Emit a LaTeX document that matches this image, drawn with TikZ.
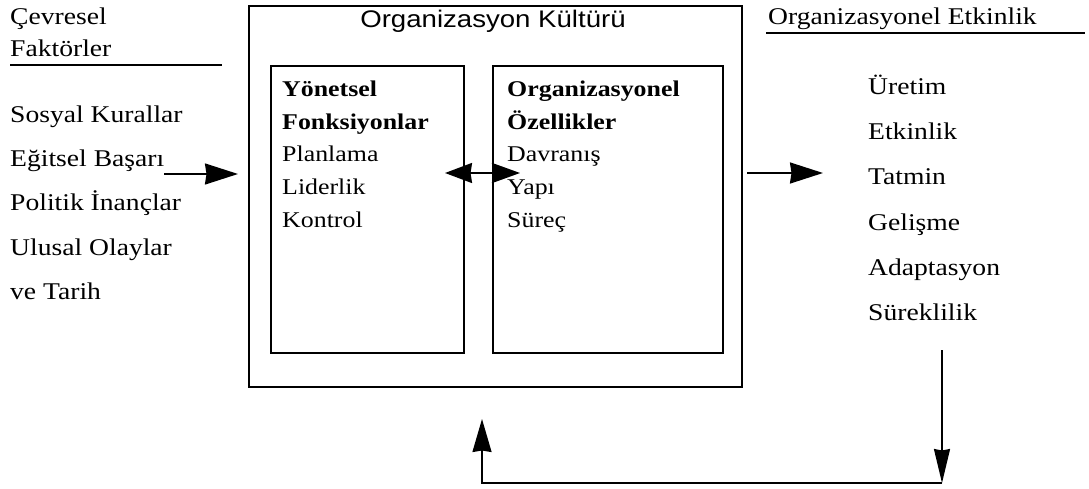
\documentclass[tikz,border=0pt]{standalone}
\usepackage{fontspec}
\setmainfont[FakeStretch=1.15]{Liberation Serif}
\newfontfamily\titlefont[FakeStretch=1.15]{Liberation Sans}
\usetikzlibrary{arrows.meta}

\begin{document}
\begin{tikzpicture}[x=1pt,y=-1pt,
  lbl/.style={anchor=base west, inner sep=0pt, font=\fontsize{24}{24}\selectfont},
  inlbl/.style={anchor=base west, inner sep=0pt, font=\fontsize{22.5}{22.5}\selectfont},
  inhead/.style={anchor=base west, inner sep=0pt, font=\fontsize{22.5}{22.5}\selectfont\bfseries},
  frame/.style={draw, line width=1.7pt, anchor=north west, inner sep=0pt},
  rule/.style={line width=1.6pt},
  arr/.style={line width=1.9pt, -{Stealth[length=33pt,width=21pt,inset=1.5pt]}},
  darr/.style={line width=1.9pt, {Stealth[length=27pt,width=20pt,inset=1.5pt]}-{Stealth[length=28pt,width=20pt,inset=1.5pt]}},
  fb/.style={line width=1.7pt}
]
\useasboundingbox (0,0) rectangle (1089,489);

% culture frame and its two inner boxes
\node[frame, minimum width=493pt, minimum height=381pt] (outer) at (248,5) {};
\node[anchor=base, inner sep=0pt, font=\titlefont\fontsize{24}{24}\selectfont] (title) at (493,28) {Organizasyon Kültürü};
\node[frame, minimum width=193pt, minimum height=287pt] (mgmt) at (270,65) {};
\node[frame, minimum width=230pt, minimum height=287pt] (org) at (492,65) {};

% managerial functions
\node[inhead] (m1) at (282,97) {Yönetsel};
\node[inhead] (m2) at (282,129.5) {Fonksiyonlar};
\node[inlbl] (m3) at (282,162) {Planlama};
\node[inlbl] (m4) at (282,194.5) {Liderlik};
\node[inlbl] (m5) at (282,227) {Kontrol};

% organisational characteristics
\node[inhead] (o1) at (507,97) {Organizasyonel};
\node[inhead] (o2) at (507,129.5) {Özellikler};
\node[inlbl] (o3) at (507,162) {Davranış};
\node[inlbl] (o4) at (507,194.5) {Yapı};
\node[inlbl] (o5) at (507,227) {Süreç};

% environmental factors
\node[lbl] (e0a) at (10,25) {Çevresel};
\node[lbl] (e0b) at (10,57) {Faktörler};
\draw[rule] (10,65) -- (222,65);
\node[lbl] (e1) at (10,123) {Sosyal Kurallar};
\node[lbl] (e2) at (10,167) {Eğitsel Başarı};
\node[lbl] (e3) at (10,211) {Politik İnançlar};
\node[lbl] (e4) at (10,255) {Ulusal Olaylar};
\node[lbl] (e5) at (10,299) {ve Tarih};

% organisational effectiveness
\node[lbl] (r0) at (768,25) {Organizasyonel Etkinlik};
\draw[rule] (766,33) -- (1085,33);
\node[lbl] (r1) at (868,95) {Üretim};
\node[lbl] (r2) at (868,140) {Etkinlik};
\node[lbl] (r3) at (868,185) {Tatmin};
\node[lbl] (r4) at (868,230) {Gelişme};
\node[lbl] (r5) at (868,275) {Adaptasyon};
\node[lbl] (r6) at (868,320) {Süreklilik};

% arrows
\coordinate (inS) at (164,174);
\coordinate (inE) at (238,174);
\draw[arr] (inS) -- (inE);
\coordinate (dL) at (445,173);
\coordinate (dR) at (520,173);
\draw[darr] (dL) -- (dR);
\coordinate (outS) at (747,173);
\coordinate (outE) at (823,173);
\draw[arr] (outS) -- (outE);

% feedback loop
\coordinate (fbtop) at (942,350);
\coordinate (fbr) at (942,483);
\coordinate (fbl) at (482,483);
\coordinate (fbtip) at (482,419);
\draw[fb, -{Stealth[length=34pt,width=16pt,inset=1.5pt]}] (fbtop) -- (fbr);
\draw[fb, -{Stealth[length=33pt,width=19pt,inset=1.5pt]}] (fbr) -- (fbl) -- (fbtip);
\end{tikzpicture}
\end{document}
